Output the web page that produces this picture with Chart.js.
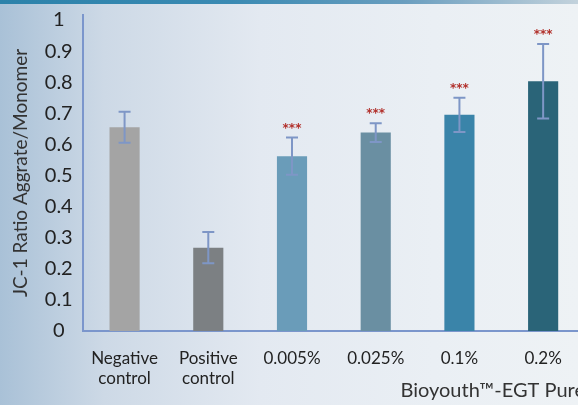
<!DOCTYPE html>
<html>
<head>
<meta charset="utf-8">
<script src="https://cdn.jsdelivr.net/npm/chart.js@4.4.0/dist/chart.umd.min.js"></script>
<style>
  html, body { margin: 0; padding: 0; overflow: hidden; width: 578px; height: 405px; }
  body {
    background: linear-gradient(90deg, #a9c1d7 0%, #cdd9e6 18%, #e3e9f1 45%, #eaeff4 75%, #eef2f5 100%);
    position: relative;
  }
  #band {
    position: absolute; left: 0; top: 0; width: 578px; height: 4px;
    background: linear-gradient(90deg, #2c82aa 0%, #3a8ab3 40%, #6a9ebf 70%, #c3d2dc 100%);
  }
  #wrap { position: absolute; left: 0; top: 0; width: 600px; height: 405px; }
</style>
</head>
<body>
<div id="band"></div>
<div id="wrap"><canvas id="chart" width="600" height="405"></canvas></div>
<script>
// categories and values
const categories = [["Negative", "control"], ["Positive", "control"], "0.005%", "0.025%", "0.1%", "0.2%"];
const ratios = [0.655, 0.268, 0.562, 0.638, 0.695, 0.803];
const errors = [0.05, 0.05, 0.06, 0.03, 0.055, 0.12];
const stars = ["", "", "***", "***", "***", "***"];
const barColors = ["#a4a4a4", "#7c8083", "#6a9cb9", "#6a8fa2", "#3a84a9", "#2a6478"];
const yTicks = [0, 0.1, 0.2, 0.3, 0.4, 0.5, 0.6, 0.7, 0.8, 0.9, 1];

// error bars + significance stars
const errorBarPlugin = {
    id: 'errorBars',
    afterDatasetsDraw(chart) {
        const ctx = chart.ctx;
        const y = chart.scales.y;
        const meta = chart.getDatasetMeta(0);
        ctx.save();
        meta.data.forEach((bar, i) => {
            const top = y.getPixelForValue(ratios[i] + errors[i]);
            const bottom = y.getPixelForValue(ratios[i] - errors[i]);
            ctx.strokeStyle = '#7e96c6';
            ctx.lineWidth = 2;
            ctx.beginPath();
            ctx.moveTo(bar.x, top);
            ctx.lineTo(bar.x, bottom);
            ctx.moveTo(bar.x - 6, top);
            ctx.lineTo(bar.x + 6, top);
            ctx.moveTo(bar.x - 6, bottom);
            ctx.lineTo(bar.x + 6, bottom);
            ctx.stroke();
            if (stars[i]) {
                ctx.fillStyle = '#b2312c';
                ctx.font = 'bold 12px "DejaVu Sans"';
                ctx.textAlign = 'center';
                ctx.textBaseline = 'middle';
                ctx.fillText(stars[i], bar.x, top - 9);
            }
        });
        ctx.restore();
    }
};

const ctx = document.getElementById('chart').getContext('2d');
new Chart(ctx, {
    type: 'bar',
    data: {
        labels: categories,
        datasets: [{
            data: ratios,
            backgroundColor: barColors,
            borderWidth: 0,
            categoryPercentage: 1,
            barPercentage: 0.36
        }]
    },
    options: {
        responsive: false,
        animation: false,
        layout: { padding: { left: 5, right: 15, top: 15, bottom: 2 } },
        plugins: {
            legend: { display: false },
            tooltip: { enabled: false }
        },
        scales: {
            x: {
                afterFit(scale) { scale.height = 72; },
                grid: { display: false, drawTicks: false },
                border: { display: true, color: '#7b96cc', width: 2 },
                ticks: {
                    color: '#222',
                    font: { family: 'Lato', size: 17 },
                    padding: 17,
                    maxRotation: 0,
                    autoSkip: false
                },
                title: {
                    display: true,
                    text: 'Bioyouth™-EGT Pure',
                    align: 'end',
                    color: '#333',
                    font: { family: 'Lato', size: 20 },
                    padding: { top: 0, bottom: 0 }
                }
            },
            y: {
                min: 0,
                max: 1.016,
                afterBuildTicks(scale) {
                    scale.ticks = yTicks.map(v => ({ value: v }));
                },
                afterFit(scale) { scale.paddingTop = 0; scale.paddingBottom = 0; },
                grid: { display: false, drawTicks: false },
                border: { display: true, color: '#7b96cc', width: 2 },
                ticks: {
                    color: '#222',
                    font: { family: 'Lato', size: 20 },
                    crossAlign: 'center',
                    padding: 10,
                    callback: v => String(v)
                },
                title: {
                    display: true,
                    text: 'JC-1 Ratio Aggrate/Monomer',
                    color: '#333',
                    font: { family: 'Lato', size: 19 },
                    padding: { top: 4, bottom: 3 }
                }
            }
        }
    },
    plugins: [errorBarPlugin]
});
</script>
</body>
</html>
